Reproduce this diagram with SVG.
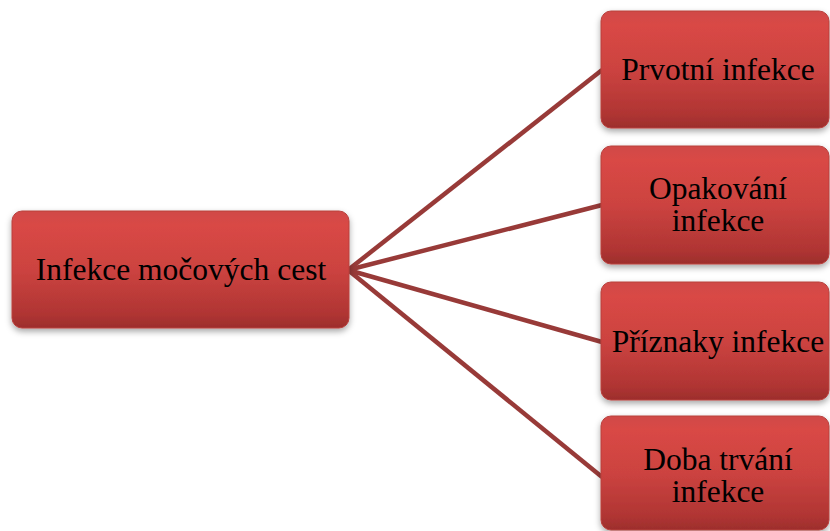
<svg xmlns="http://www.w3.org/2000/svg" width="830" height="531" viewBox="0 0 830 531">
<defs>
<linearGradient id="fill" x1="0" y1="0" x2="0" y2="1">
<stop offset="0" stop-color="#d04a47"/>
<stop offset="0.12" stop-color="#d94845"/>
<stop offset="0.5" stop-color="#cc4340"/>
<stop offset="0.88" stop-color="#b03533"/>
<stop offset="1" stop-color="#9c2e2c"/>
</linearGradient>
<filter id="sh" x="-10%" y="-10%" width="120%" height="125%">
<feDropShadow dx="0" dy="3" stdDeviation="3" flood-color="#000" flood-opacity="0.35"/>
</filter>
</defs>
<style>
.box{fill:url(#fill);stroke:#b8403d;stroke-width:1;filter:url(#sh)}
.t{font-family:"Liberation Serif","Times New Roman",serif;font-size:31.5px;fill:#000;text-anchor:middle}
.c{stroke:#983a38;stroke-width:4.5;fill:none;stroke-linecap:butt}
</style>
<g id="connectors">
<line class="c" x1="348" y1="270" x2="602" y2="70"/>
<line class="c" x1="348" y1="270" x2="602" y2="205"/>
<line class="c" x1="348" y1="270" x2="602" y2="342"/>
<line class="c" x1="348" y1="270" x2="602" y2="477"/>
</g>
<g id="n0">
<rect class="box" x="12" y="211" width="337" height="117" rx="10"/>
<text class="t" x="181" y="280">Infekce močových cest</text>
</g>
<g id="n1">
<rect class="box" x="601" y="11" width="228" height="117" rx="10"/>
<text class="t" x="718" y="80">Prvotní infekce</text>
</g>
<g id="n2">
<rect class="box" x="601" y="146" width="228" height="118" rx="10"/>
<text class="t" x="718" y="199">Opakování</text>
<text class="t" x="718" y="231">infekce</text>
</g>
<g id="n3">
<rect class="box" x="601" y="282" width="228" height="118" rx="10"/>
<text class="t" x="718" y="352">Příznaky infekce</text>
</g>
<g id="n4">
<rect class="box" x="601" y="416" width="228" height="114" rx="10"/>
<text class="t" x="718" y="470">Doba trvání</text>
<text class="t" x="718" y="502">infekce</text>
</g>
</svg>
